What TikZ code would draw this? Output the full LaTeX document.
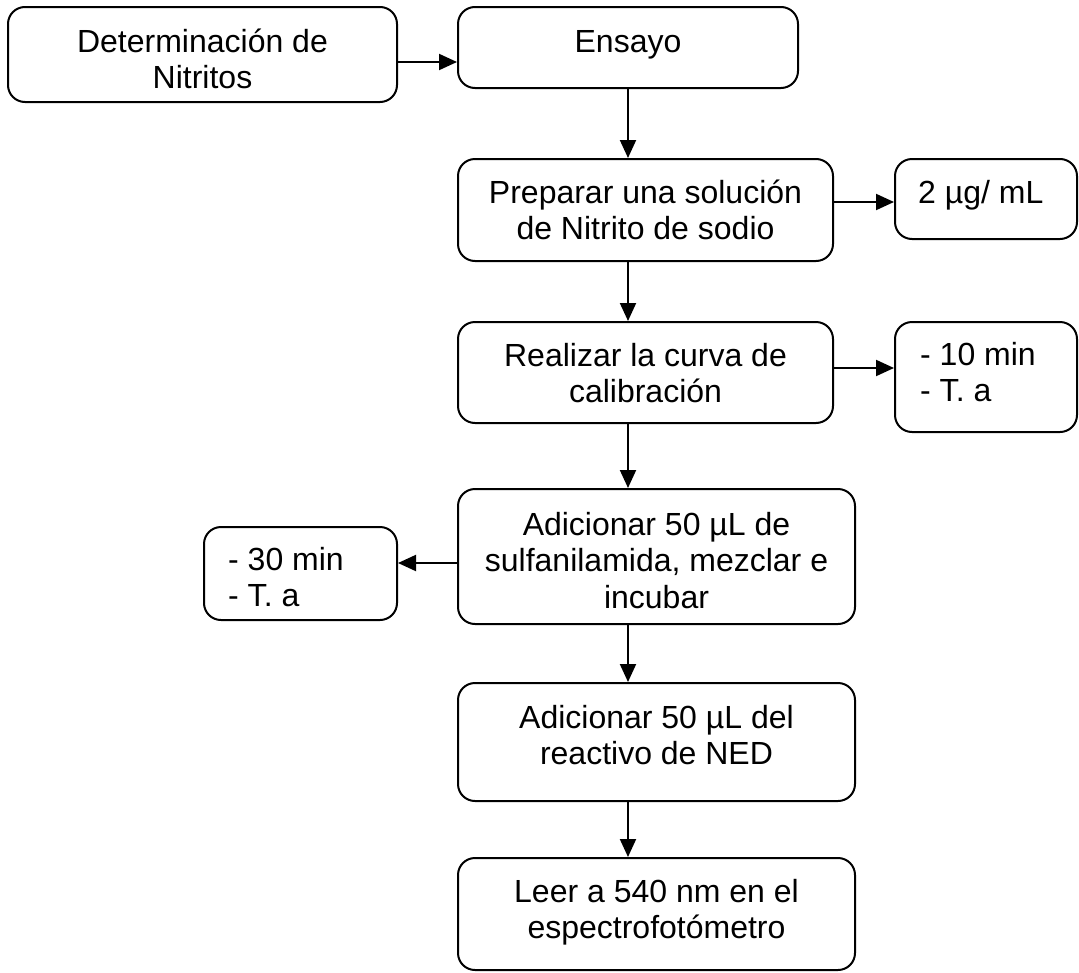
\documentclass[tikz,border=0pt]{standalone}
\usepackage{fontspec}
\setmainfont{Liberation Sans}
\usetikzlibrary{arrows.meta,fit}
\begin{document}
\begin{tikzpicture}[x=1pt,y=-1pt,
  box/.style={draw, line width=2pt, rounded corners=17pt, inner sep=0pt},
  ctext/.style={anchor=base, inner sep=0pt, font=\fontsize{32}{36.5}\selectfont},
  ltext/.style={anchor=base west, inner sep=0pt, font=\fontsize{32}{36.5}\selectfont},
  arr/.style={line width=2pt, -{Triangle[length=18pt,width=16pt]}}]
\useasboundingbox (0,0) rectangle (1079,972);

% boxes
\node[box, fit={(8,7) (397,102)}] (b1) {};
\node[box, fit={(458,7) (798,88)}] (b2) {};
\node[box, fit={(458,159) (833,261)}] (b3) {};
\node[box, fit={(895,159) (1077,239)}] (b4) {};
\node[box, fit={(458,322) (833,423)}] (b5) {};
\node[box, fit={(895,322) (1077,432)}] (b6) {};
\node[box, fit={(458,489) (855,624)}] (b7) {};
\node[box, fit={(204,527) (397,620)}] (b8) {};
\node[box, fit={(458,683) (855,801)}] (b9) {};
\node[box, fit={(458,858) (855,970)}] (b10) {};

% texts
\node[ctext] (t1) at (202.5,52) {\begin{tabular}[t]{@{}c@{}}Determinación de\\Nitritos\end{tabular}};
\node[ctext] (t2) at (628,52) {Ensayo};
\node[ctext] (t3) at (645.5,203) {\begin{tabular}[t]{@{}c@{}}Preparar una solución\\de Nitrito de sodio\end{tabular}};
\node[ltext] (t4) at (918,203) {2 µg/ mL};
\node[ctext] (t5) at (645.5,366) {\begin{tabular}[t]{@{}c@{}}Realizar la curva de\\calibración\end{tabular}};
\node[ltext] (t6) at (920,365) {\begin{tabular}[t]{@{}l@{}}- 10 min\\- T. a\end{tabular}};
\node[ctext] (t7) at (656.5,535) {\begin{tabular}[t]{@{}c@{}}Adicionar 50 µL de\\sulfanilamida, mezclar e\\incubar\end{tabular}};
\node[ltext] (t8) at (228,570) {\begin{tabular}[t]{@{}l@{}}- 30 min\\- T. a\end{tabular}};
\node[ctext] (t9) at (656.5,728) {\begin{tabular}[t]{@{}c@{}}Adicionar 50 µL del\\reactivo de NED\end{tabular}};
\node[ctext] (t10) at (656.5,902) {\begin{tabular}[t]{@{}c@{}}Leer a 540 nm en el\\espectrofotómetro\end{tabular}};

% connectors
\draw[arr] ([yshift=-7.5pt]b1.east) -- ([yshift=-7.5pt]b1.east -| b2.west);
\draw[arr] (b2.south) -- (b2.south |- b3.north);
\draw[arr] ([yshift=8pt]b3.east) -- ([yshift=8pt]b3.east -| b4.west);
\draw[arr] (b3.south -| b2.south) -- (b5.north -| b2.south);
\draw[arr] ([yshift=4.5pt]b5.east) -- ([yshift=4.5pt]b5.east -| b6.west);
\draw[arr] (b5.south -| b2.south) -- (b7.north -| b2.south);
\draw[arr] ([yshift=-6.5pt]b7.west) -- ([yshift=-6.5pt]b7.west -| b8.east);
\draw[arr] (b7.south -| b2.south) -- (b9.north -| b2.south);
\draw[arr] (b9.south -| b2.south) -- (b10.north -| b2.south);
\end{tikzpicture}
\end{document}
